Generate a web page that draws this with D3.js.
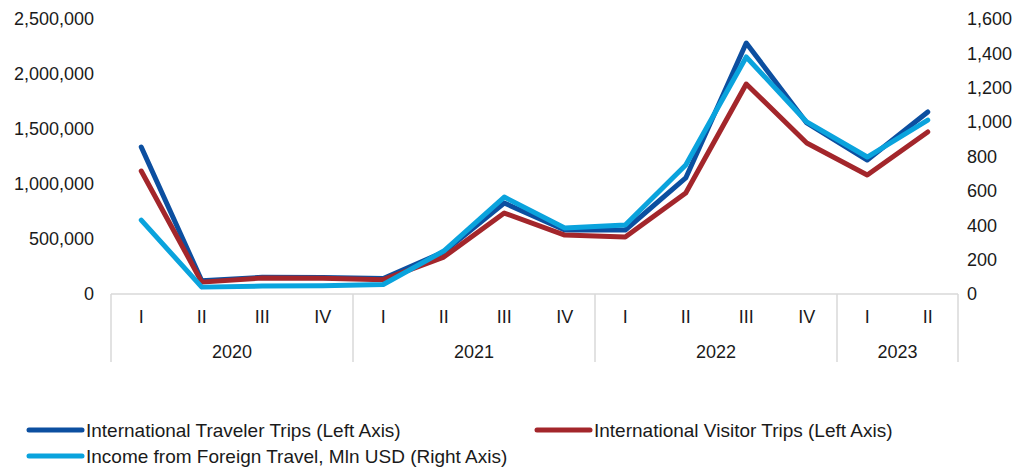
<!DOCTYPE html>
<html><head><meta charset="utf-8">
<script src="https://cdn.jsdelivr.net/npm/d3@7"></script>
<style>body{margin:0;background:#fff}svg{display:block;font-family:"Liberation Sans",Arial,sans-serif}</style>
</head><body><svg id="c" width="1017" height="469"></svg>
<script>
const quarters = ["I","II","III","IV","I","II","III","IV","I","II","III","IV","I","II"];
const years = ["2020","2020","2020","2020","2021","2021","2021","2021","2022","2022","2022","2022","2023","2023"];
const yearLabels = ["2020","2021","2022","2023"];
const travelerTrips = [1336000,120000,152000,150000,140000,382000,827000,582000,582000,1055000,2282000,1555000,1218000,1655000];
const visitorTrips = [1118000,108000,145000,143000,130000,336000,736000,536000,518000,918000,1909000,1373000,1082000,1473000];
const incomeUSD = [430,40,46,48,55,250,564,384,401,750,1379,1001,797,1012];
const leftTicks = [0,500000,1000000,1500000,2000000,2500000];
const rightTicks = [0,200,400,600,800,1000,1200,1400,1600];
const seriesNames = ["International Traveler Trips (Left Axis)","International Visitor Trips (Left Axis)","Income from Foreign Travel, Mln USD (Right Axis)"];
const colors = ["#0C4FA0","#A3262B","#0AA3DD"];

const svg = d3.select("#c");
const L = 111, R = 958, T = 19, B = 294;
const idx = d3.range(quarters.length);
const x = d3.scaleBand().domain(idx).range([L, R]).padding(0);
const yL = d3.scaleLinear().domain([0,2500000]).range([B, T]);
const yR = d3.scaleLinear().domain([0,1600]).range([B, T]);
const fmt = d3.format(",");
const axisCol = "#D9D9D9";

svg.append("g").selectAll("text").data(leftTicks).join("text")
  .attr("x", 94).attr("y", d => yL(d)).attr("dy","0.35em")
  .attr("text-anchor","end").attr("font-size",18).attr("fill","#1a1a1a").text(d => fmt(d));
svg.append("g").selectAll("text").data(rightTicks).join("text")
  .attr("x", 967).attr("y", d => yR(d)).attr("dy","0.35em")
  .attr("text-anchor","start").attr("font-size",18).attr("fill","#1a1a1a").text(d => fmt(d));

svg.append("line").attr("x1",L).attr("x2",R).attr("y1",B).attr("y2",B).attr("stroke",axisCol).attr("stroke-width",1.5);
const groups = yearLabels.map(y => {
  const ii = idx.filter(i => years[i] === y);
  return {year: y, x0: x(ii[0]), x1: x(ii[ii.length-1]) + x.bandwidth()};
});
const seps = [groups[0].x0, ...groups.map(g => g.x1)];
svg.append("g").selectAll("line").data(seps).join("line")
  .attr("x1", d => d).attr("x2", d => d).attr("y1", B).attr("y2", 362)
  .attr("stroke", axisCol).attr("stroke-width",1.5);
svg.append("g").selectAll("text").data(idx).join("text")
  .attr("x", i => x(i) + x.bandwidth()/2).attr("y", 317).attr("dy","0.35em")
  .attr("text-anchor","middle").attr("font-size",18).attr("fill","#1a1a1a").text(i => quarters[i]);
svg.append("g").selectAll("text").data(groups).join("text")
  .attr("x", g => (g.x0 + g.x1)/2).attr("y", 352).attr("dy","0.35em")
  .attr("text-anchor","middle").attr("font-size",18).attr("fill","#1a1a1a").text(g => g.year);

const cx = i => x(i) + x.bandwidth()/2;
const lineL = d3.line().x((d,i) => cx(i)).y(d => yL(d));
const lineR = d3.line().x((d,i) => cx(i)).y(d => yR(d));
svg.append("path").attr("d", lineL(travelerTrips)).attr("fill","none").attr("stroke",colors[0]).attr("stroke-width",5).attr("stroke-linejoin","round").attr("stroke-linecap","round");
svg.append("path").attr("d", lineL(visitorTrips)).attr("fill","none").attr("stroke",colors[1]).attr("stroke-width",5).attr("stroke-linejoin","round").attr("stroke-linecap","round");
svg.append("path").attr("d", lineR(incomeUSD)).attr("fill","none").attr("stroke",colors[2]).attr("stroke-width",5).attr("stroke-linejoin","round").attr("stroke-linecap","round");

const leg = [
  {name: seriesNames[0], color: colors[0], x: 29, y: 430},
  {name: seriesNames[1], color: colors[1], x: 537, y: 430},
  {name: seriesNames[2], color: colors[2], x: 29, y: 456}
];
const lg = svg.append("g").selectAll("g").data(leg).join("g");
lg.append("line").attr("x1", d => d.x).attr("x2", d => d.x + 53).attr("y1", d => d.y).attr("y2", d => d.y)
  .attr("stroke", d => d.color).attr("stroke-width",5).attr("stroke-linecap","round");
lg.append("text").attr("x", d => d.x + 57).attr("y", d => d.y).attr("dy","0.35em")
  .attr("font-size",19).attr("fill","#1a1a1a").text(d => d.name);
</script>
</body></html>
